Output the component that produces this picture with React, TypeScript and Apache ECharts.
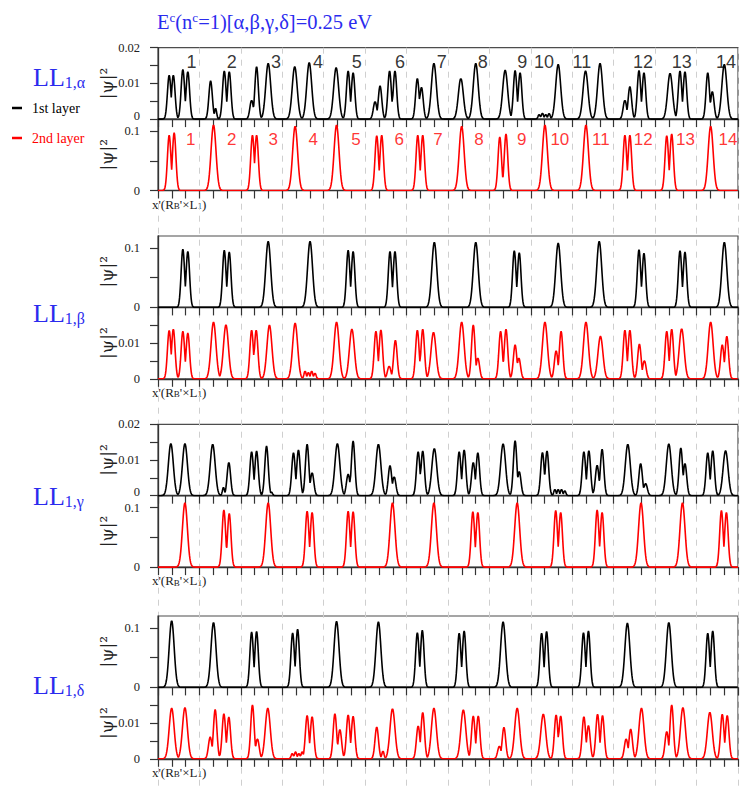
import React, { useEffect, useRef } from "react";
import * as echarts from "echarts";

// ---------- data ----------
// x' position in units of R_B' x L_1 (0..14), |psi|^2 peak height
const ALPHA_1ST: number[][] = [
  [0.27, 0.0123], [0.37, 0.0123], [0.6, 0.0139], [0.72, 0.0133],
  [1.27, 0.0107], [1.39, 0.003], [1.6, 0.0135], [1.72, 0.0133],
  [2.26, 0.0053], [2.38, 0.0147], [2.66, 0.0156],
  [3.3, 0.0147], [3.65, 0.0158],
  [4.3, 0.0144], [4.59, 0.0135], [4.71, 0.013],
  [5.24, 0.0049], [5.36, 0.0093], [5.59, 0.0135], [5.72, 0.0135],
  [6.26, 0.0114], [6.36, 0.0089], [6.66, 0.0156],
  [7.31, 0.0114], [7.67, 0.0156],
  [8.38, 0.0137], [8.62, 0.0136], [8.74, 0.013],
  [9.2, 0.0013], [9.28, 0.0017], [9.36, 0.0013], [9.44, 0.0016], [9.66, 0.0153],
  [10.32, 0.0135], [10.67, 0.0156],
  [11.27, 0.0053], [11.39, 0.0091], [11.61, 0.0136], [11.73, 0.013],
  [12.36, 0.0128], [12.6, 0.0135], [12.72, 0.0133],
  [13.27, 0.013], [13.38, 0.0077], [13.67, 0.0153],
];
const ALPHA_2ND: number[][] = [
  [0.27, 0.093], [0.39, 0.097],
  [1.34, 0.11],
  [2.28, 0.093], [2.38, 0.093],
  [3.31, 0.108],
  [4.31, 0.11],
  [5.28, 0.092], [5.4, 0.093],
  [6.27, 0.093], [6.39, 0.093],
  [7.33, 0.108],
  [8.25, 0.09], [8.4, 0.095],
  [9.34, 0.11],
  [10.33, 0.11],
  [11.27, 0.093], [11.39, 0.093],
  [12.28, 0.092], [12.4, 0.095],
  [13.34, 0.108],
];
const BETA_1ST: number[][] = [
  [0.6, 0.098], [0.72, 0.094],
  [1.6, 0.096], [1.72, 0.093],
  [2.66, 0.111],
  [3.67, 0.111],
  [4.59, 0.096], [4.71, 0.094],
  [5.6, 0.094], [5.72, 0.094],
  [6.67, 0.1095],
  [7.67, 0.1095],
  [8.6, 0.0955], [8.72, 0.092],
  [9.66, 0.108],
  [10.65, 0.111],
  [11.61, 0.097], [11.73, 0.091],
  [12.6, 0.0955], [12.72, 0.093],
  [13.67, 0.1095],
];
const BETA_2ND: number[][] = [
  [0.27, 0.01355], [0.37, 0.0139], [0.6, 0.0133], [0.72, 0.0128],
  [1.34, 0.0159], [1.64, 0.0151],
  [2.26, 0.0136], [2.37, 0.0136], [2.69, 0.015],
  [3.31, 0.0156], [3.55, 0.0022], [3.63, 0.0018], [3.71, 0.0022], [3.79, 0.0016],
  [4.31, 0.0159], [4.68, 0.0139],
  [5.26, 0.0133], [5.38, 0.0137], [5.58, 0.0035], [5.73, 0.0108],
  [6.26, 0.0136], [6.39, 0.0139], [6.65, 0.013],
  [7.33, 0.0159], [7.61, 0.0151], [7.72, 0.0058],
  [8.27, 0.0133], [8.4, 0.0139], [8.62, 0.0095], [8.71, 0.0058],
  [9.34, 0.0159], [9.61, 0.0078], [9.73, 0.0133],
  [10.33, 0.0159], [10.68, 0.0119],
  [11.27, 0.0136], [11.39, 0.0136], [11.62, 0.0097], [11.74, 0.0051],
  [12.28, 0.0133], [12.4, 0.0139], [12.64, 0.014],
  [13.34, 0.0159], [13.62, 0.0095], [13.73, 0.0119],
];
const GAMMA_1ST: number[][] = [
  [0.31, 0.0146], [0.65, 0.0146],
  [1.32, 0.0144], [1.58, 0.0023], [1.71, 0.0093],
  [2.26, 0.0123], [2.38, 0.0125], [2.62, 0.0139], [2.74, 0.001],
  [3.27, 0.012], [3.39, 0.0128], [3.6, 0.0144], [3.72, 0.0064],
  [4.33, 0.0146], [4.59, 0.006], [4.71, 0.0153],
  [5.32, 0.0144], [5.6, 0.0084], [5.7, 0.0053],
  [6.28, 0.0123], [6.39, 0.0125], [6.67, 0.0132],
  [7.27, 0.0123], [7.39, 0.0128], [7.61, 0.0093], [7.72, 0.012],
  [8.33, 0.0145], [8.62, 0.0154], [8.72, 0.0067],
  [9.28, 0.0121], [9.39, 0.0125], [9.58, 0.0018], [9.66, 0.0018], [9.74, 0.0018], [9.82, 0.0014],
  [10.28, 0.0123], [10.4, 0.0126], [10.6, 0.0085], [10.72, 0.013],
  [11.34, 0.0144], [11.65, 0.009], [11.77, 0.0034],
  [12.33, 0.0145], [12.62, 0.0134], [12.72, 0.009],
  [13.27, 0.012], [13.39, 0.0126], [13.7, 0.0126],
];
const GAMMA_2ND: number[][] = [
  [0.65, 0.108],
  [1.59, 0.096], [1.72, 0.09],
  [2.66, 0.108],
  [3.6, 0.094], [3.72, 0.092],
  [4.59, 0.094], [4.71, 0.093],
  [5.66, 0.108],
  [6.66, 0.108],
  [7.6, 0.093], [7.72, 0.092],
  [8.67, 0.108],
  [9.6, 0.095], [9.72, 0.092],
  [10.6, 0.096], [10.72, 0.092],
  [11.66, 0.108],
  [12.66, 0.108],
  [13.6, 0.095], [13.72, 0.092],
];
const DELTA_1ST: number[][] = [
  [0.33, 0.112],
  [1.34, 0.109],
  [2.26, 0.093], [2.38, 0.094],
  [3.25, 0.0915], [3.37, 0.098],
  [4.31, 0.111],
  [5.32, 0.11],
  [6.26, 0.092], [6.38, 0.096],
  [7.27, 0.091], [7.39, 0.095],
  [8.33, 0.11],
  [9.26, 0.091], [9.38, 0.094],
  [10.27, 0.092], [10.39, 0.095],
  [11.33, 0.108],
  [12.33, 0.109],
  [13.27, 0.091], [13.39, 0.095],
];
const DELTA_2ND: number[][] = [
  [0.33, 0.0142], [0.65, 0.0143],
  [1.26, 0.0061], [1.38, 0.0138], [1.59, 0.0126], [1.71, 0.0117],
  [2.28, 0.0151], [2.4, 0.0056], [2.65, 0.0142],
  [3.24, 0.0015], [3.32, 0.002], [3.4, 0.0015], [3.48, 0.002],
  [3.6, 0.0121], [3.72, 0.0118],
  [4.27, 0.0126], [4.39, 0.0082], [4.59, 0.0123], [4.71, 0.0119],
  [5.28, 0.0089], [5.43, 0.0022], [5.66, 0.014],
  [6.28, 0.0092], [6.39, 0.013], [6.66, 0.0142],
  [7.37, 0.0137], [7.61, 0.012], [7.73, 0.012],
  [8.24, 0.0035], [8.35, 0.0088], [8.67, 0.0142],
  [9.3, 0.0125], [9.61, 0.0123], [9.72, 0.012],
  [10.28, 0.0118], [10.39, 0.0093], [10.61, 0.0125], [10.73, 0.0121],
  [11.3, 0.0056], [11.41, 0.0083], [11.67, 0.0142],
  [12.28, 0.0076], [12.4, 0.0151], [12.67, 0.0143],
  [13.32, 0.013], [13.62, 0.0125], [13.74, 0.0121],
];

// peak numbers in the LL_{1,alpha} panels
const PEAK_NUMBERS = ["1", "2", "3", "4", "5", "6", "7", "8", "9", "10", "11", "12", "13", "14"];
const NUM_1ST_X = [0.81, 1.78, 2.85, 3.86, 4.8, 5.84, 6.85, 7.84, 8.79, 9.32, 10.23, 11.71, 12.64, 13.71];
const NUM_1ST_Y = 0.0161;
const NUM_2ND_X = [0.79, 1.78, 2.78, 3.75, 4.78, 5.82, 6.76, 7.75, 8.78, 9.7, 10.69, 11.71, 12.73, 13.76];
const NUM_2ND_Y = 0.085;

const Y_MAX_SMALL = 0.02;
const Y_MAX_LARGE = 0.12;
const TICKS_SMALL_TOP = [0, 0.005, 0.01, 0.015, 0.02];
const LABELS_SMALL_TOP = [0, 0.01, 0.02];
const TICKS_SMALL_BOTTOM = [0, 0.005, 0.01, 0.015];
const LABELS_SMALL_BOTTOM = [0, 0.01];
const TICKS_LARGE = [0, 0.05, 0.1];
const LABELS_LARGE = [0, 0.1];
const X_MIN = 0;
const X_MAX = 14;
const X_TICKS_PER_UNIT = 3;

const Y_NAME = "|ψ|²";
const LL_SUBS = ["1,α", "1,β", "1,γ", "1,δ"];
const LAYER_NAMES = ["1st layer", "2nd layer"];

// ---------- layout ----------
const SERIF = "Liberation Serif";
const SANS = "Liberation Sans";
const BLUE = "#2b2bee";
const COLORS = ["#000000", "#ff0000"];
const GRID_LEFT = 158;
const GRID_WIDTH = 580;
const GRID_H = 71.4;
const TOPS = [47.7, 119.1, 236, 307.4, 424.3, 495.7, 616, 687.4];
const LL_TOPS = [64, 300, 483, 672];

const PANELS = [
  { peaks: ALPHA_1ST, layer: 0, max: Y_MAX_SMALL },
  { peaks: ALPHA_2ND, layer: 1, max: Y_MAX_LARGE },
  { peaks: BETA_1ST, layer: 0, max: Y_MAX_LARGE },
  { peaks: BETA_2ND, layer: 1, max: Y_MAX_SMALL },
  { peaks: GAMMA_1ST, layer: 0, max: Y_MAX_SMALL },
  { peaks: GAMMA_2ND, layer: 1, max: Y_MAX_LARGE },
  { peaks: DELTA_1ST, layer: 0, max: Y_MAX_LARGE },
  { peaks: DELTA_2ND, layer: 1, max: Y_MAX_SMALL },
];

function buildCurve(peaks: number[][]) {
  const hMax = Math.max(...peaks.map((p) => p[1]));
  const withSigma = peaks.map(([p, h], i) => {
    let d = Infinity;
    peaks.forEach(([q], j) => {
      if (j !== i) d = Math.min(d, Math.abs(q - p));
    });
    let s = 0.06;
    if (h < 0.2 * hMax) s = 0.026;
    else if (d < 0.17) s = 0.042;
    return [p, h, s];
  });
  const out: number[][] = [];
  const n = 1400;
  for (let i = 0; i <= n; i++) {
    const x = X_MIN + ((X_MAX - X_MIN) * i) / n;
    let y = 0;
    for (const [p, h, s] of withSigma) {
      const dx = x - p;
      if (Math.abs(dx) > 6 * s) continue;
      const v = h * Math.exp(-(dx * dx) / (2 * s * s));
      if (v > y) y = v;
    }
    out.push([x, y]);
  }
  return out;
}

function buildOption() {
  const xTicks: number[] = [];
  for (let i = 0; i <= (X_MAX - X_MIN) * X_TICKS_PER_UNIT; i++) xTicks.push(X_MIN + i / X_TICKS_PER_UNIT);

  const grid: any[] = [];
  const xAxis: any[] = [];
  const yAxis: any[] = [];
  const series: any[] = [];
  const graphic: any[] = [];

  PANELS.forEach((pn, i) => {
    grid.push({
      left: GRID_LEFT,
      width: GRID_WIDTH,
      top: TOPS[i],
      height: GRID_H,
      show: true,
      borderColor: "#4d4d4d",
      borderWidth: 1.2,
    });
    xAxis.push({
      type: "value",
      gridIndex: i,
      min: X_MIN,
      max: X_MAX,
      axisLine: { show: true, onZero: false, lineStyle: { color: "#333", width: 1.3 } },
      axisTick: { show: true, inside: false, length: 8, customValues: xTicks, lineStyle: { color: "#333", width: 1.2 } },
      axisLabel: { show: false },
      splitLine: { show: false },
    });
    const small = pn.max === Y_MAX_SMALL;
    const ticks = small ? (pn.layer === 0 ? TICKS_SMALL_TOP : TICKS_SMALL_BOTTOM) : TICKS_LARGE;
    const labels = small ? (pn.layer === 0 ? LABELS_SMALL_TOP : LABELS_SMALL_BOTTOM) : LABELS_LARGE;
    // the "0" of a top panel sits right above the next panel's "0.1": lift it a little
    const liftZero = small && pn.layer === 0;
    yAxis.push({
      type: "value",
      gridIndex: i,
      min: 0,
      max: pn.max,
      axisLine: { show: true, lineStyle: { color: "#333", width: 1.3 } },
      axisTick: { show: true, inside: false, length: 8, customValues: ticks, lineStyle: { color: "#333", width: 1.2 } },
      axisLabel: {
        show: true,
        margin: 18,
        customValues: labels,
        formatter: (v: number) => (v === 0 ? (liftZero ? "{lo|0}" : "0") : String(v)),
        fontFamily: SERIF,
        fontSize: 12.5,
        lineHeight: 9,
        color: "#222",
        rich: {
          lo: { fontFamily: SERIF, fontSize: 12.5, lineHeight: 9, color: "#222", padding: [0, 0, 7, 0] },
        },
      },
      splitLine: { show: false },
    });
    series.push({
      type: "line",
      name: LAYER_NAMES[pn.layer],
      xAxisIndex: i,
      yAxisIndex: i,
      data: buildCurve(pn.peaks),
      showSymbol: false,
      symbol: "none",
      color: COLORS[pn.layer],
      lineStyle: { color: COLORS[pn.layer], width: 1.6 },
      silent: true,
      z: 3,
    });
    // rotated y-axis name
    graphic.push({
      type: "text",
      x: 107,
      y: TOPS[i] + GRID_H / 2,
      rotation: Math.PI / 2,
      style: {
        text: Y_NAME,
        fontFamily: "DejaVu Serif",
        fontSize: 17,
        fill: "#222",
        align: "center",
        verticalAlign: "middle",
      },
    });
  });

  // full-height dashed unit lines
  grid.push({ left: GRID_LEFT, width: GRID_WIDTH, top: TOPS[0], bottom: 0, show: false });
  xAxis.push({
    type: "value",
    gridIndex: 8,
    min: X_MIN,
    max: X_MAX,
    interval: 1,
    axisLine: { show: false },
    axisTick: { show: false },
    axisLabel: { show: false },
    splitLine: { show: true, lineStyle: { color: "#cfcfcf", width: 1, type: [6, 6] } },
  });
  yAxis.push({ type: "value", gridIndex: 8, min: 0, max: 1, show: false });

  // peak numbers
  series.push({
    type: "scatter",
    xAxisIndex: 0,
    yAxisIndex: 0,
    symbolSize: 1,
    itemStyle: { color: "rgba(0,0,0,0)" },
    silent: true,
    data: NUM_1ST_X.map((x, k) => ({ value: [x, NUM_1ST_Y], name: PEAK_NUMBERS[k] })),
    label: { show: true, position: "inside", formatter: "{b}", fontFamily: SANS, fontSize: 18, color: "#000" },
    z: 5,
  });
  series.push({
    type: "scatter",
    xAxisIndex: 1,
    yAxisIndex: 1,
    symbolSize: 1,
    itemStyle: { color: "rgba(0,0,0,0)" },
    silent: true,
    data: NUM_2ND_X.map((x, k) => ({ value: [x, NUM_2ND_Y], name: PEAK_NUMBERS[k] })),
    label: { show: true, position: "inside", formatter: "{b}", fontFamily: SANS, fontSize: 17, color: "#ff0000" },
    z: 5,
  });

  // title
  graphic.push({
    type: "text",
    left: 157,
    top: 11,
    style: {
      text: "{a|E}{s|c}{a|(n}{s|c}{a|=1)[α,β,γ,δ]=0.25 eV}",
      rich: {
        a: { fontFamily: SERIF, fontSize: 20.5, lineHeight: 21, fill: BLUE, verticalAlign: "bottom" },
        s: { fontFamily: SERIF, fontSize: 13, lineHeight: 8, fill: BLUE, verticalAlign: "top" },
      },
    },
  });
  // LL labels
  LL_SUBS.forEach((sub, k) => {
    graphic.push({
      type: "text",
      left: 33,
      top: LL_TOPS[k],
      style: {
        text: `{a|LL}{b|${sub}}`,
        rich: {
          a: { fontFamily: SERIF, fontSize: 26, lineHeight: 26, fill: BLUE, verticalAlign: "bottom" },
          b: { fontFamily: SERIF, fontSize: 16, lineHeight: 6, fill: BLUE, verticalAlign: "bottom" },
        },
      },
    });
  });
  // x-axis names under each pair
  [1, 3, 5, 7].forEach((pi) => {
    graphic.push({
      type: "text",
      left: 152,
      top: TOPS[pi] + GRID_H + 7,
      style: {
        text: "{a|x'(R}{s|B}{a|'×L}{s|1}{a|)}",
        rich: {
          a: { fontFamily: SERIF, fontSize: 13, lineHeight: 12, fill: "#222", verticalAlign: "bottom" },
          s: { fontFamily: SERIF, fontSize: 9, lineHeight: 4, fill: "#222", verticalAlign: "bottom" },
        },
      },
    });
  });

  const legendText = (color: string) => ({ color, fontFamily: SERIF, fontSize: 14, padding: [0, 0, 0, 5] });

  return {
    animation: false,
    backgroundColor: "#ffffff",
    legend: {
      orient: "vertical",
      left: 12,
      top: 101,
      padding: 0,
      itemWidth: 10,
      itemHeight: 2.5,
      itemGap: 16,
      icon: "rect",
      selectedMode: false,
      textStyle: legendText("#000"),
      data: [
        { name: LAYER_NAMES[0], textStyle: legendText(COLORS[0]) },
        { name: LAYER_NAMES[1], textStyle: legendText(COLORS[1]) },
      ],
    },
    grid,
    xAxis,
    yAxis,
    series,
    graphic,
  };
}

export default function App() {
  const ref = useRef<HTMLDivElement>(null);
  useEffect(() => {
    document.body.style.margin = "0";
    if (!ref.current) return;
    const chart = echarts.init(ref.current, undefined, { renderer: "svg" });
    chart.setOption(buildOption() as any);
    return () => chart.dispose();
  }, []);
  return <div ref={ref} style={{ width: 745, height: 788 }} />;
}
